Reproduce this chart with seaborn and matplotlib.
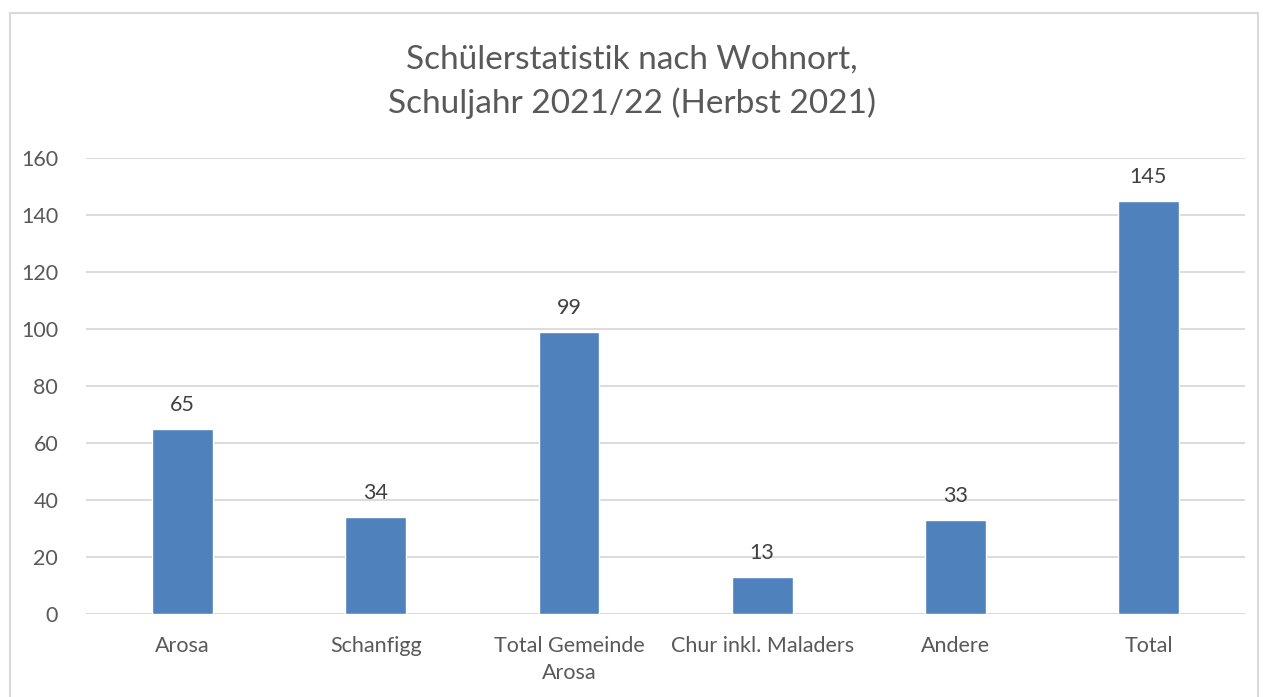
import matplotlib
matplotlib.use("Agg")
import matplotlib.pyplot as plt
import seaborn as sns
import pandas as pd
from matplotlib.patches import Rectangle

categories = ["Arosa", "Schanfigg", "Total Gemeinde\nArosa", "Chur inkl. Maladers", "Andere", "Total"]
values = [65, 34, 99, 13, 33, 145]
yticks = [0, 20, 40, 60, 80, 100, 120, 140, 160]

df = pd.DataFrame({"Ort": categories, "Anzahl": values})

sns.set_theme(style="white")
plt.rcParams["font.family"] = ["Lato", "DejaVu Sans"]

fig = plt.figure(figsize=(12.63, 6.97), dpi=100)
ax = fig.add_axes([0.0681, 0.1191, 0.9177, 0.6542])

sns.barplot(data=df, x="Ort", y="Anzahl", color="#4F81BD", saturation=1, width=0.315, ax=ax)

ax.set_ylim(0, 160)
ax.set_xlim(-0.5, 5.5)
ax.set_yticks(yticks)
ax.yaxis.grid(True, color="#D9D9D9", linewidth=1.3)
ax.set_axisbelow(True)
for s in ax.spines.values():
    s.set_visible(False)
ax.axhline(0, color="#D9D9D9", linewidth=1.3, zorder=0.5)
ax.set_xlabel("")
ax.set_ylabel("")
ax.tick_params(axis="both", length=0, labelsize=15.5, colors="#595959")
ax.tick_params(axis="y", pad=20)
ax.tick_params(axis="x", pad=16)
for lbl in ax.get_xticklabels():
    lbl.set_linespacing(1.45)

for i, v in enumerate(values):
    ax.text(i, v + 8.5, str(v), ha="center", va="center", fontsize=15.5, color="#404040")

fig.text(0.5, 0.914, "Schülerstatistik nach Wohnort,", ha="center", va="center", fontsize=24, color="#595959")
fig.text(0.5, 0.852, "Schuljahr 2021/22 (Herbst 2021)", ha="center", va="center", fontsize=24, color="#595959")

fig.patches.append(Rectangle((10 / 1263, -0.05), 1248 / 1263, 1.05 - 13 / 697, transform=fig.transFigure,
                             fill=False, edgecolor="#D9D9D9", linewidth=1.5))

fig.savefig("out.png", dpi=100)
